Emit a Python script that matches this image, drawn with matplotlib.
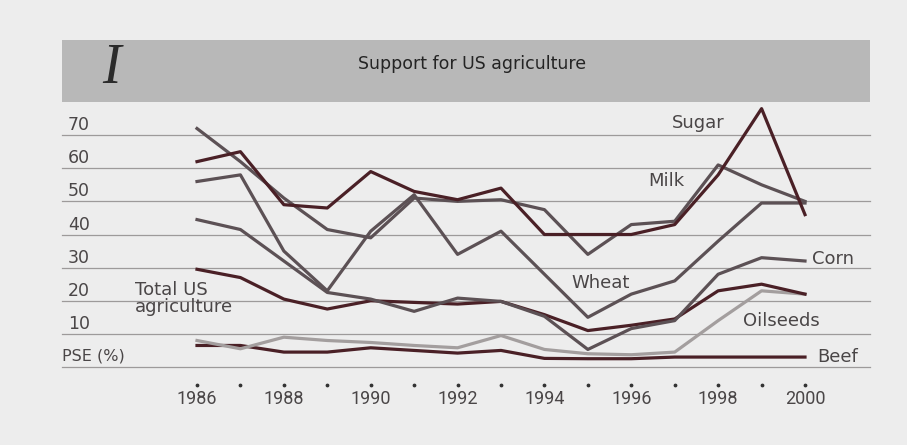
import matplotlib.pyplot as plt
from matplotlib.patches import Rectangle

# data (PSE, %)
years = list(range(1986, 2001))
sugar = [62, 65, 49, 48, 59, 53, 50.5, 54, 40, 40, 40, 43, 58, 78, 46]
milk = [72, 62, 51, 41.5, 39, 51, 50, 50.5, 47.5, 34, 43, 44, 61, 55, 50]
wheat = [56, 58, 35, 23, 41, 52, 34, 41, 28, 15, 22, 26, 38, 49.5, 49.5]
corn = [44.5, 41.5, 32, 22.5, 20.5, 16.8, 20.8, 19.8, 15.3, 5.3, 11.6, 14, 28, 33, 32]
total = [29.5, 27, 20.5, 17.5, 20, 19.5, 19, 19.8, 15.8, 11, 12.6, 14.5, 23, 25, 22]
oilseeds = [8, 5.5, 9, 8, 7.4, 6.5, 5.8, 9.5, 5.3, 4, 3.7, 4.5, 14, 23, 22]
beef = [6.5, 6.5, 4.5, 4.5, 5.8, 5, 4.2, 5, 2.6, 2.5, 2.5, 3, 3, 3, 3]

grid_vals = [0, 10, 20, 30, 40, 50, 60, 70]
ytick_vals = [10, 20, 30, 40, 50, 60, 70]
year_labels = [1986, 1988, 1990, 1992, 1994, 1996, 1998, 2000]

maroon = "#4a2026"
greyish = "#5c5155"
light = "#a39e9e"
txt = "#4a4647"

W, H = 907, 445
fig = plt.figure(figsize=(W / 100, H / 100), dpi=100, facecolor="#ededed")

# header band
fig.patches.append(Rectangle((62 / W, 1 - 102 / H), (870 - 62) / W, 62 / H,
                             transform=fig.transFigure, facecolor="#b8b8b8",
                             edgecolor="none", zorder=0))
fig.text(102 / W, 1 - 69 / H, "I", family="Liberation Serif", style="italic",
         fontsize=40, color="#2b2b2b", va="center", ha="left")
fig.text(472 / W, 1 - 64 / H, "Support for US agriculture", fontsize=12.5,
         color="#242424", ha="center", va="center")

ax = fig.add_axes([62 / W, 1 - 367 / H, (870 - 62) / W, (367 - 102) / H])
ax.set_facecolor("none")
x0 = 1986 - (197 - 62) / 43.43
x1 = 2000 + (870 - 805) / 43.43
ax.set_xlim(x0, x1)
ax.set_ylim(0, 80)
for s in ax.spines.values():
    s.set_visible(False)
ax.set_xticks([])
ax.set_yticks([])

for g in grid_vals:
    ax.axhline(g, color="#9d9a9a", lw=0.9, zorder=1, clip_on=False)

# lines
ax.plot(years, beef, color=maroon, lw=2.3, zorder=3)
ax.plot(years, oilseeds, color=light, lw=2.3, zorder=3)
ax.plot(years, total, color=maroon, lw=2.3, zorder=3)
ax.plot(years, corn, color=greyish, lw=2.3, zorder=3)
ax.plot(years, wheat, color=greyish, lw=2.3, zorder=3)
ax.plot(years, milk, color=greyish, lw=2.3, zorder=3)
ax.plot(years, sugar, color=maroon, lw=2.3, zorder=3)

# y labels
ylx = x0 + 6 / 43.43
for v in ytick_vals:
    ax.text(ylx, v + 3, str(v), fontsize=12.5, color=txt, ha="left", va="center")
ax.text(x0, 3.2, "PSE (%)", fontsize=11.5, color=txt, ha="left", va="center")

# x axis: dots and year labels
ax.scatter(years, [-5.5] * len(years), s=3, color="#333333", clip_on=False)
for y in year_labels:
    ax.text(y, -9.8, str(y), fontsize=13, color=txt, ha="center", va="center",
            family="Roboto")

# series labels
lab = dict(fontsize=13, color=txt, va="center", ha="left")
ax.text(1996.94, 73.6, "Sugar", **lab)
ax.text(1996.38, 56.0, "Milk", **lab)
ax.text(1994.61, 25.5, "Wheat", **lab)
ax.text(2000.16, 32.7, "Corn", **lab)
ax.text(1998.57, 13.9, "Oilseeds", **lab)
ax.text(2000.28, 3.1, "Beef", **lab)
ax.text(1984.57, 20.6, "Total US\nagriculture", linespacing=0.95, **lab)

fig.savefig("out.png", dpi=100, facecolor=fig.get_facecolor())
